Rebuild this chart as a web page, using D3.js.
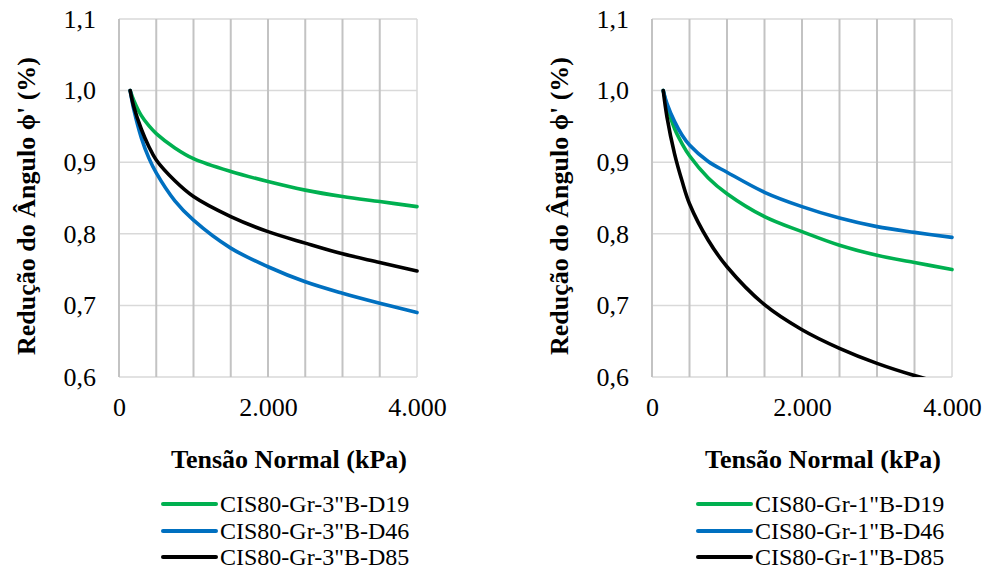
<!DOCTYPE html>
<html>
<head>
<meta charset="utf-8">
<script src="https://cdn.jsdelivr.net/npm/d3@7"></script>
<style>
  html, body { margin: 0; padding: 0; background: #fff; }
  svg { display: block; }
  svg text { font-family: "Liberation Serif", Tinos, "Times New Roman", Times, "DejaVu Serif", serif; fill: #000; }
</style>
</head>
<body>
<svg id="chart" width="984" height="571"></svg>
<script>
// Normal stress (kPa) at which each curve is sampled
const tensao = [150, 200, 300, 400, 500, 750, 1000, 1500, 2000, 2500, 3000, 3500, 4000];

// Reduction of friction angle, 3" block series
const d19_3 = [1.000, 0.986, 0.965, 0.951, 0.940, 0.920, 0.905, 0.887, 0.873, 0.861, 0.852, 0.845, 0.838];
const d46_3 = [1.000, 0.973, 0.934, 0.906, 0.885, 0.846, 0.819, 0.780, 0.754, 0.733, 0.717, 0.703, 0.690];
const d85_3 = [1.000, 0.977, 0.946, 0.922, 0.903, 0.874, 0.852, 0.824, 0.803, 0.787, 0.772, 0.760, 0.748];

// Reduction of friction angle, 1" block series
const d19_1 = [1.000, 0.978, 0.947, 0.926, 0.909, 0.878, 0.856, 0.824, 0.803, 0.784, 0.770, 0.760, 0.750];
const d46_1 = [1.000, 0.982, 0.957, 0.938, 0.924, 0.901, 0.886, 0.858, 0.838, 0.822, 0.810, 0.802, 0.795];
const d85_1 = [1.000, 0.963, 0.912, 0.874, 0.842, 0.791, 0.754, 0.701, 0.666, 0.640, 0.619, 0.602, 0.588];

const names3 = ['CIS80-Gr-3"B-D19', 'CIS80-Gr-3"B-D46', 'CIS80-Gr-3"B-D85'];
const names1 = ['CIS80-Gr-1"B-D19', 'CIS80-Gr-1"B-D46', 'CIS80-Gr-1"B-D85'];

const xTicks = [0, 2000, 4000];
const xGrid = [0, 500, 1000, 1500, 2000, 2500, 3000, 3500, 4000];
const yTicks = [0.6, 0.7, 0.8, 0.9, 1.0, 1.1];

const colors = ["#00b050", "#0070c0", "#000000"];

const yTitle = "Redução do Ângulo ϕ' (%)";
const xTitle = "Tensão Normal (kPa)";

const serif = '"Liberation Serif", Tinos, "Times New Roman", Times, "DejaVu Serif", serif';

const locale = d3.formatLocale({ decimal: ",", thousands: ".", grouping: [3], currency: ["", ""] });
const fmtY = locale.format(".1f");
const fmtX = locale.format(",.0f");

const svg = d3.select("#chart");

const panels = [
  { left: 119, right: 417, series: [d19_3, d46_3, d85_3], names: names3, legendX: 163 },
  { left: 652, right: 952, series: [d19_1, d46_1, d85_1], names: names1, legendX: 698 }
];

const plotTop = 19, plotBottom = 377;

panels.forEach((p, i) => {
  const g = svg.append("g");
  const x = d3.scaleLinear().domain([0, 4000]).range([p.left, p.right]);
  const y = d3.scaleLinear().domain([0.6, 1.1]).range([plotBottom, plotTop]);

  // horizontal gridlines
  g.append("g").selectAll("line").data(yTicks).join("line")
    .attr("x1", p.left).attr("x2", p.right)
    .attr("y1", d => y(d)).attr("y2", d => y(d))
    .attr("stroke", "#d9d9d9").attr("stroke-width", 1.5);

  // vertical gridlines
  g.append("g").selectAll("line").data(xGrid).join("line")
    .attr("x1", d => x(d)).attr("x2", d => x(d))
    .attr("y1", plotTop).attr("y2", plotBottom)
    .attr("stroke", d => d === 4000 ? "#d9d9d9" : "#c3c3c3")
    .attr("stroke-width", d => d === 4000 ? 1.5 : 2);

  // y tick labels
  const yAxis = g.append("g")
    .attr("transform", `translate(${p.left},0)`)
    .call(d3.axisLeft(y).tickValues(yTicks).tickFormat(fmtY).tickSize(0).tickPadding(23));
  yAxis.select(".domain").remove();
  yAxis.attr("font-family", null).attr("font-size", null);
  yAxis.selectAll("text")
    .style("font-family", serif)
    .style("font-size", "26px").attr("fill", "#000");

  // x tick labels
  const xAxis = g.append("g")
    .attr("transform", `translate(0,${plotBottom})`)
    .call(d3.axisBottom(x).tickValues(xTicks).tickFormat(fmtX).tickSize(0).tickPadding(21));
  xAxis.select(".domain").remove();
  xAxis.attr("font-family", null).attr("font-size", null);
  xAxis.selectAll("text")
    .style("font-family", serif)
    .style("font-size", "26px").attr("fill", "#000");

  // clip curves to plot area
  const clipId = "clip" + i;
  svg.append("clipPath").attr("id", clipId)
    .append("rect").attr("x", p.left).attr("y", plotTop)
    .attr("width", p.right - p.left + 3).attr("height", plotBottom - plotTop);

  const line = d3.line()
    .x((d, k) => x(tensao[k]))
    .y(d => y(d))
    .curve(d3.curveCatmullRom.alpha(0.5));

  g.append("g").attr("clip-path", `url(#${clipId})`)
    .selectAll("path").data(p.series).join("path")
    .attr("d", d => line(d))
    .attr("fill", "none")
    .attr("stroke", (d, k) => colors[k])
    .attr("stroke-width", 3.6)
    .attr("stroke-linejoin", "round")
    .attr("stroke-linecap", "round");

  // axis titles
  const yTitleX = p.left - 84;
  g.append("text")
    .attr("transform", `translate(${yTitleX},${(plotTop + plotBottom) / 2 + 8}) rotate(-90)`)
    .attr("text-anchor", "middle")
    .style("font-family", serif)
    .style("font-size", "26px").style("font-weight", "bold")
    .text(yTitle);

  g.append("text")
    .attr("x", (p.left + p.right) / 2 + 21).attr("y", 468)
    .attr("text-anchor", "middle")
    .style("font-family", serif)
    .style("font-size", "26px").style("font-weight", "bold")
    .text(xTitle);

  // legend
  const rowY = [504, 531, 557];
  const leg = g.append("g");
  p.names.forEach((n, k) => {
    leg.append("line")
      .attr("x1", p.legendX).attr("x2", p.legendX + 53)
      .attr("y1", rowY[k]).attr("y2", rowY[k])
      .attr("stroke", colors[k]).attr("stroke-width", 4)
      .attr("stroke-linecap", "round");
    leg.append("text")
      .attr("x", p.legendX + 57).attr("y", rowY[k] + 8)
      .style("font-family", serif)
      .style("font-size", "24px")
      .text(n);
  });
});
</script>
</body>
</html>
